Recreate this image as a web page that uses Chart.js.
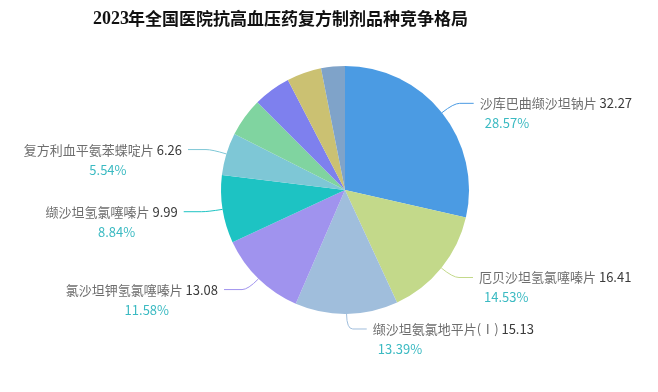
<!DOCTYPE html>
<html>
<head>
<meta charset="utf-8">
<script src="https://cdn.jsdelivr.net/npm/chart.js@4.4.1/dist/chart.umd.min.js"></script>
<style>
  html, body { margin: 0; padding: 0; background: #fff; }
  #wrap { width: 658px; height: 392px; position: relative; }
</style>
</head>
<body>
<div id="wrap"><canvas id="chart" width="658" height="392"></canvas></div>
<script>
const title = '2023年全国医院抗高血压药复方制剂品种竞争格局';

// 品种名称（后四个在原图中未标注）
const names = [
  '沙库巴曲缬沙坦钠片',
  '厄贝沙坦氢氯噻嗪片',
  '缬沙坦氨氯地平片(Ⅰ)',
  '氯沙坦钾氢氯噻嗪片',
  '缬沙坦氢氯噻嗪片',
  '复方利血平氨苯蝶啶片',
  '其他品种A',
  '其他品种B',
  '其他品种C',
  '其他品种D'
];
const values = [32.27, 16.41, 15.13, 13.08, 9.99, 6.26, 5.7, 5.5, 5.1, 3.5];
const shares = ['28.57%', '14.53%', '13.39%', '11.58%', '8.84%', '5.54%', '', '', '', ''];
const labelled = [true, true, true, true, true, true, false, false, false, false];

const colors = [
  '#4b9be3', '#c3d98a', '#a0bedc', '#a093ee', '#1dc3c3',
  '#7ec7d6', '#80d4a0', '#7e80ee', '#cbc172', '#7fa3c9'
];

const outsideLabels = {
  id: 'outsideLabels',
  afterDatasetsDraw(chart) {
    const { ctx } = chart;
    const arcs = chart.getDatasetMeta(0).data;
    arcs.forEach((arc, i) => {
      if (!labelled[i]) return;
      const { x, y, startAngle, endAngle, outerRadius } = arc.getProps(['x', 'y', 'startAngle', 'endAngle', 'outerRadius'], true);
      const mid = (startAngle + endAngle) / 2;
      const cos = Math.cos(mid), sin = Math.sin(mid);
      const p0 = { x: x + cos * outerRadius, y: y + sin * outerRadius };
      const p1 = { x: x + cos * (outerRadius + 15), y: y + sin * (outerRadius + 15) };
      const right = cos >= 0;
      const len2 = right ? 20 : 24;
      const p2 = { x: p1.x + (right ? len2 : -len2), y: p1.y };

      ctx.save();
      ctx.strokeStyle = colors[i];
      ctx.lineWidth = 1;
      ctx.beginPath();
      ctx.moveTo(p0.x, p0.y);
      ctx.quadraticCurveTo(p1.x, p1.y, p1.x + (right ? 6 : -6), p1.y);
      ctx.lineTo(p2.x, p2.y);
      ctx.stroke();

      const name = names[i] + ' ';
      const val = values[i].toFixed(2);
      ctx.font = '13px "Noto Sans CJK SC", sans-serif';
      const nameW = ctx.measureText(name).width;
      const valW = ctx.measureText(val).width;
      const total = nameW + valW;
      const tx = right ? p2.x + 6 : p2.x - 6 - total;
      ctx.textBaseline = 'middle';
      ctx.textAlign = 'left';
      ctx.fillStyle = '#6e6e6e';
      ctx.fillText(name, tx, p2.y);
      ctx.fillStyle = '#3a3a3a';
      ctx.fillText(val, tx + nameW, p2.y);

      ctx.fillStyle = '#3bbac2';
      if (right) {
        ctx.fillText(shares[i], tx + 5, p2.y + 20);
      } else {
        ctx.textAlign = 'center';
        ctx.fillText(shares[i], tx + total / 2 + 5, p2.y + 20);
      }
      ctx.restore();
    });
  }
};

const titlePlugin = {
  id: 'titlePlugin',
  beforeDraw(chart) {
    const { ctx } = chart;
    ctx.save();
    ctx.fillStyle = '#111';
    ctx.textBaseline = 'middle';
    ctx.textAlign = 'left';
    const digits = title.slice(0, 4);
    const rest = title.slice(4);
    const digitFont = 'bold 18px "Liberation Serif", serif';
    const cjkFont = 'bold 17px "Noto Sans CJK SC", sans-serif';
    ctx.font = digitFont;
    const dW = ctx.measureText(digits).width;
    ctx.font = cjkFont;
    const rW = ctx.measureText(rest).width;
    const x0 = 281 - (dW + rW) / 2;
    ctx.font = digitFont;
    ctx.fillText(digits, x0, 19);
    ctx.font = cjkFont;
    ctx.fillText(rest, x0 + dW - 1, 19);
    ctx.restore();
  }
};

new Chart(document.getElementById('chart'), {
  type: 'pie',
  data: {
    labels: names,
    datasets: [{
      data: values,
      backgroundColor: colors,
      borderWidth: 0
    }]
  },
  options: {
    responsive: false,
    animation: false,
    layout: { padding: { left: 221, right: 189, top: 66, bottom: 78 } },
    plugins: {
      legend: { display: false },
      tooltip: { enabled: false }
    }
  },
  plugins: [titlePlugin, outsideLabels]
});
</script>
</body>
</html>
